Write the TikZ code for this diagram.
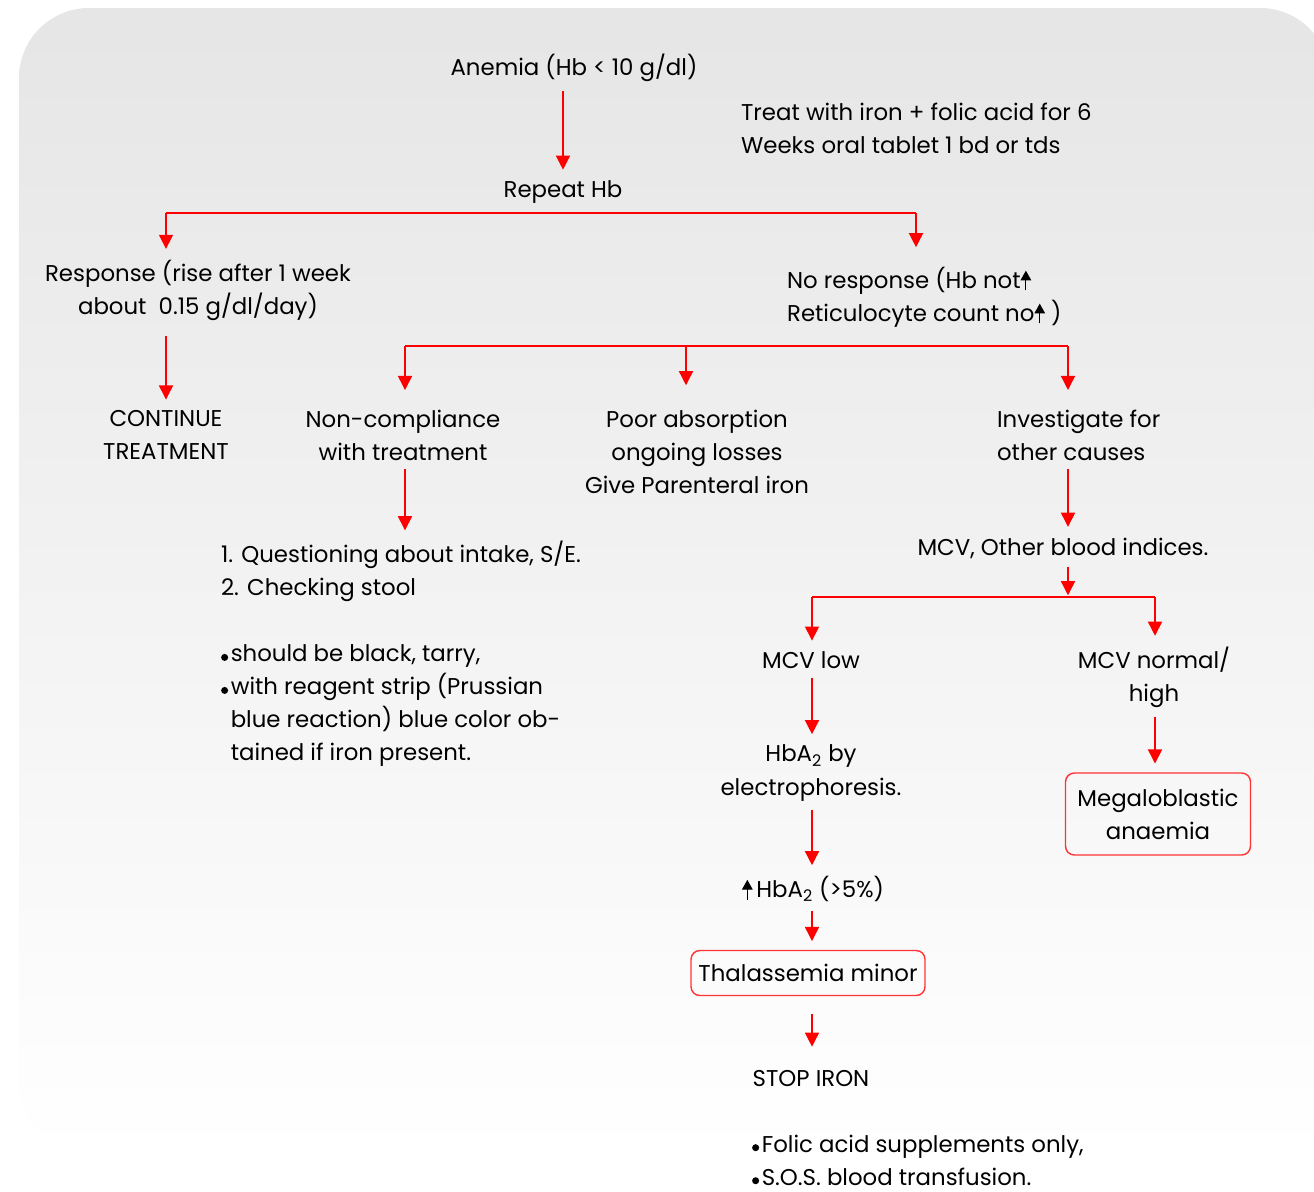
\documentclass[tikz,border=0pt]{standalone}
\usepackage{fontspec}
\setmainfont{Poppins}
\usetikzlibrary{arrows.meta,positioning}

\newcommand{\fsz}{\fontsize{13}{18.8}\selectfont}
\newcommand{\upar}{\tikz[baseline=0pt]\draw[-{Triangle[width=6pt,length=5.5pt]}, line width=0.6pt] (0,-1.2pt) -- (0,10pt);}
\newcommand{\bul}{\tikz[baseline=0pt]\fill (0,2.5pt) circle (2pt);\kern1.5pt}

\begin{document}
\begin{tikzpicture}[
  x=0.02cm, y=-0.02cm,
  >={Triangle[width=8pt,length=8pt]},
  txt/.style={align=center, inner sep=1pt, font=\fsz},
  lft/.style={align=left, inner sep=1pt, font=\fsz},
  ar/.style={red, line width=0.8pt, ->, shorten <=4pt, shorten >=5pt},
  bar/.style={red, line width=0.8pt},
  endbox/.style={txt, draw=red!80, line width=0.8pt, rounded corners=5pt},
]
\useasboundingbox (0,0) rectangle (1314,1191);
\shade[top color=black!10, bottom color=white, rounded corners=1.4cm]
  (19,8) rectangle (1330,1155);

% top of the chart
\node[txt] (anemia) at (574,68) {Anemia (Hb < 10 g/dl)};
\node[lft, anchor=west] (treat) at (739,128) {Treat with iron + folic acid for 6\\Weeks oral tablet 1 bd or tds};
\node[txt] (repeat) at (563,192) {Repeat Hb};

\coordinate (b1l) at (166,213);
\coordinate (b1r) at (916,213);
\node[txt] (response) at (198,290) {Response (rise after 1 week\\about~ 0.15 g/dl/day)};
\node[lft, anchor=west] (noresp) at (785,297) {No response (Hb not\upar\\Reticulocyte count no\upar\ )};
\node[txt] (continue) at (166,435) {CONTINUE\\TREATMENT};

% second split
\coordinate (b2l) at (405,346);
\coordinate (b2m) at (686,346);
\coordinate (b2r) at (1068,346);
\node[txt] (noncomp) at (403,435) {Non-compliance\\with treatment};
\node[txt] (poor) at (697,452) {Poor absorption\\ongoing losses\\Give Parenteral iron};
\node[lft, anchor=west] (invest) at (995,435) {Investigate for\\other causes};

\node[lft, anchor=west] (quest) at (219,654) {1. Questioning about intake, S/E.\\2. Checking stool\\[18.8pt]
  \bul should be black, tarry,\\\bul with reagent strip (Prussian\\\phantom{\bul}blue reaction) blue color ob-\\\phantom{\bul}tained if iron present.};

\node[txt] (mcv) at (1063,548) {MCV, Other blood indices.};
\coordinate (b3l) at (812,597);
\coordinate (b3m) at (1068,597);
\coordinate (b3r) at (1155,597);
\node[txt] (mcvlow) at (811,660) {MCV low};
\node[txt] (mcvnorm) at (1154,677) {MCV normal/\\high};
\node[txt] (hba) at (811,773) {HbA\textsubscript{2} by\\electrophoresis.};
\node[endbox, minimum width=3.7cm, minimum height=1.64cm] (megalo) at (1158,814) {Megaloblastic\\anaemia};
\node[txt] (hbup) at (813,889) {\upar\,HbA\textsubscript{2} (>5\%)};
\node[endbox, minimum width=4.68cm, minimum height=0.9cm] (thal) at (808,973) {Thalassemia minor};
\node[txt] (stop) at (811,1078) {STOP IRON};
\node[lft, anchor=west] (folic) at (750,1160) {\bul Folic acid supplements only,\\\bul S.O.S. blood transfusion.};

% connectors
\draw[ar] (repeat |- anemia.south) -- (repeat.north);
\draw[bar] (b1l) -- (b1r);
\draw[ar, shorten <=0pt] (b1l) -- (b1l |- response.north);
\draw[ar, shorten <=0pt, shorten >=10pt] (b1r) -- (b1r |- noresp.north);
\draw[ar, shorten <=8pt] (continue |- response.south) -- (continue.north);

\draw[bar] (b2l) -- (b2r);
\draw[ar, shorten <=0pt, shorten >=10pt] (b2l) -- (b2l |- noncomp.north);
\draw[ar, shorten <=0pt, shorten >=13pt] (b2m) -- (b2m |- poor.north);
\draw[ar, shorten <=0pt, shorten >=10pt] (b2r) -- (b2r |- invest.north);
\draw[ar] (noncomp.south -| b2l) -- (b2l |- quest.north);
\draw[ar] (b2r |- invest.south) -- (b2r |- mcv.north);

\draw[ar, shorten >=1pt] (b3m |- mcv.south) -- (b3m);
\draw[bar] (b3l) -- (b3r);
\draw[ar, shorten <=0pt] (b3l) -- (b3l |- mcvlow.north);
\draw[ar, shorten <=0pt] (b3r) -- (b3r |- mcvnorm.north);
\draw[ar] (b3l |- mcvlow.south) -- (b3l |- hba.north);
\draw[ar] (b3r |- mcvnorm.south) -- (b3r |- megalo.north);
\draw[ar] (b3l |- hba.south) -- (b3l |- hbup.north);
\draw[ar] (b3l |- hbup.south) -- (b3l |- thal.north);
\draw[ar, shorten <=10pt, shorten >=12pt] (b3l |- thal.south) -- (b3l |- stop.north);
\end{tikzpicture}
\end{document}
